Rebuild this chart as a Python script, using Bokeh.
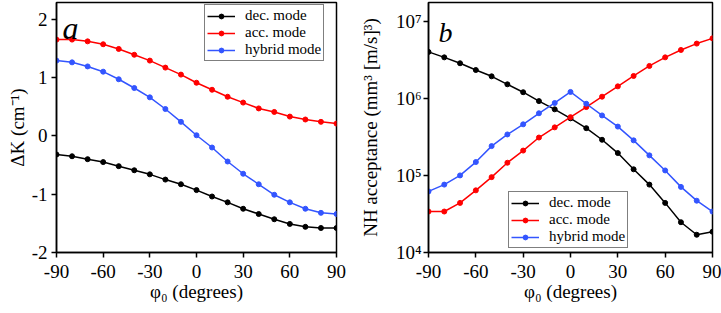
from bokeh.plotting import figure
from bokeh.layouts import row
from bokeh.models import FixedTicker, Label, Range1d, Legend, LegendItem
from bokeh.embed import file_html
from bokeh.resources import INLINE

phi = [-90, -80, -70, -60, -50, -40, -30, -20, -10, 0, 10, 20, 30, 40, 50, 60, 70, 80, 90]

dk_dec = [-0.32, -0.35, -0.40, -0.45, -0.52, -0.59, -0.66, -0.75, -0.83, -0.93,
          -1.04, -1.14, -1.25, -1.34, -1.43, -1.51, -1.56, -1.58, -1.58]
dk_acc = [1.65, 1.65, 1.62, 1.57, 1.49, 1.39, 1.29, 1.17, 1.05, 0.91,
          0.79, 0.67, 0.57, 0.47, 0.41, 0.33, 0.28, 0.24, 0.21]
dk_hyb = [1.29, 1.26, 1.19, 1.10, 0.97, 0.82, 0.66, 0.46, 0.24, 0.01,
          -0.20, -0.44, -0.65, -0.83, -1.01, -1.14, -1.25, -1.32, -1.34]

acc_dec = [4.0e6, 3.4e6, 2.85e6, 2.33e6, 1.93e6, 1.52e6, 1.2e6, 9.2e5, 7.2e5, 5.5e5,
           4.1e5, 2.9e5, 1.95e5, 1.2e5, 7.6e4, 4.4e4, 2.47e4, 1.7e4, 1.86e4]
acc_acc = [3.4e4, 3.4e4, 4.4e4, 6.4e4, 9.5e4, 1.46e5, 2.1e5, 3.1e5, 4.2e5, 5.7e5,
           7.7e5, 1.05e6, 1.43e6, 1.95e6, 2.63e6, 3.4e6, 4.24e6, 5.13e6, 6.0e6]
acc_hyb = [6.2e4, 7.6e4, 1.0e5, 1.49e5, 2.4e5, 3.4e5, 4.6e5, 6.4e5, 8.7e5, 1.21e6,
           8.5e5, 6.0e5, 4.3e5, 2.85e5, 1.82e5, 1.16e5, 7.1e4, 4.7e4, 3.4e4]

x_ticks = [-90, -60, -30, 0, 30, 60, 90]
x_tick_labels = ["-90", "-60", "-30", "0", "30", "60", "90"]
left_yticks = [-2, -1, 0, 1, 2]
left_ytick_labels = ["-2", "-1", "0", "1", "2"]
right_yticks = [1e4, 1e5, 1e6, 1e7]
right_ytick_labels = ["10\u2074", "10\u2075", "10\u2076", "10\u2077"]
series_names = ["dec. mode", "acc. mode", "hybrid mode"]
colors = ["#000000", "#ff0000", "#3355ff"]

FONT = "Liberation Serif"


def style(p):
    p.grid.visible = False
    p.outline_line_color = "black"
    p.outline_line_width = 1.5
    p.background_fill_color = "white"
    p.border_fill_color = "white"
    for ax in [p.xaxis[0], p.yaxis[0]]:
        ax.axis_line_color = "black"
        ax.axis_line_width = 1.5
        ax.major_tick_line_color = "black"
        ax.major_tick_line_width = 1.5
        ax.major_tick_out = 5
        ax.major_tick_in = 0
        ax.minor_tick_line_color = None
        ax.major_label_text_font = FONT
        ax.major_label_text_font_size = "19px"
        ax.major_label_text_color = "black"
        ax.axis_label_text_font = FONT
        ax.axis_label_text_font_size = "19px"
        ax.axis_label_text_font_style = "normal"
        ax.axis_label_text_color = "black"
    p.xaxis[0].ticker = FixedTicker(ticks=x_ticks)
    p.xaxis[0].major_label_overrides = {t: s for t, s in zip(x_ticks, x_tick_labels)}
    p.xaxis[0].major_label_standoff = 7
    p.xaxis[0].axis_label = "\u03c6\u2080 (degrees)"
    p.xaxis[0].axis_label_standoff = 0


def add_series(p, ys_list):
    items = []
    for name, ys, c in zip(series_names, ys_list, colors):
        r1 = p.line(phi, ys, line_color=c, line_width=1.5)
        r2 = p.scatter(phi, ys, marker="circle", size=5, fill_color=c, line_color=c)
        items.append(LegendItem(label=name, renderers=[r1, r2]))
    return items


def style_legend(leg):
    leg.label_text_font = FONT
    leg.label_text_font_size = "15px"
    leg.label_text_color = "black"
    leg.label_height = 12
    leg.glyph_height = 12
    leg.glyph_width = 28
    leg.label_standoff = 10
    leg.spacing = 0
    leg.padding = 2
    leg.border_line_color = "black"
    leg.border_line_width = 1.5
    leg.background_fill_alpha = 1.0


# Left panel
p1 = figure(frame_width=280, frame_height=250, output_backend="svg", toolbar_location=None,
            x_range=Range1d(-90, 90), y_range=Range1d(-2, 2.286),
            min_border_left=56, min_border_right=14, min_border_top=2, min_border_bottom=55)
style(p1)
p1.yaxis[0].ticker = FixedTicker(ticks=left_yticks)
p1.yaxis[0].major_label_overrides = {t: s for t, s in zip(left_yticks, left_ytick_labels)}
p1.yaxis[0].major_label_standoff = 4
p1.yaxis[0].axis_label = "\u0394K (cm\u207b\u00b9)"
p1.yaxis[0].axis_label_standoff = 1
items1 = add_series(p1, [dk_dec, dk_acc, dk_hyb])
leg1 = Legend(items=items1, location=(148, 191))
style_legend(leg1)
p1.add_layout(leg1)
p1.add_layout(Label(x=6, y=225, x_units="screen", y_units="screen", text="a",
                    text_font=FONT, text_font_style="italic", text_font_size="32px",
                    text_baseline="alphabetic", text_color="black"))

# Right panel
p2 = figure(frame_width=284, frame_height=250, output_backend="svg", toolbar_location=None,
            x_range=Range1d(-90, 90), y_range=Range1d(1e4, 1.75e7), y_axis_type="log",
            min_border_left=78, min_border_right=9, min_border_top=2, min_border_bottom=55)
style(p2)
p2.yaxis[0].ticker = FixedTicker(ticks=right_yticks)
p2.yaxis[0].major_label_overrides = {t: lab for t, lab in zip(right_yticks, right_ytick_labels)}
p2.yaxis[0].major_label_standoff = 2
p2.yaxis[0].axis_label = "NH acceptance (mm\u00b3 [m/s]\u00b3)"
p2.yaxis[0].axis_label_standoff = 12
items2 = add_series(p2, [acc_dec, acc_acc, acc_hyb])
leg2 = Legend(items=items2, location=(80, 4))
style_legend(leg2)
p2.add_layout(leg2)
p2.add_layout(Label(x=10, y=220, x_units="screen", y_units="screen", text="b",
                    text_font=FONT, text_font_style="italic", text_font_size="28px",
                    text_baseline="alphabetic", text_color="black"))

layout = row(p1, p2)

open("out.html", "w").write(file_html(layout, INLINE))
